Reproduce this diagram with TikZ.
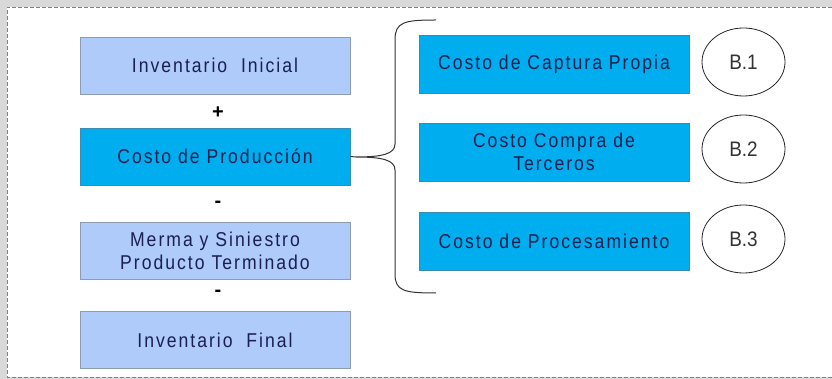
\documentclass[tikz,border=0pt]{standalone}
\usepackage{fontspec}
\setmainfont{Liberation Sans}
\usetikzlibrary{shapes.geometric}
\begin{document}
\begin{tikzpicture}[x=1pt,y=-1pt,
  lbox/.style={draw=boxedge,fill=lightblu,line width=0.8pt,minimum width=270pt,minimum height=57pt,inner sep=0pt,align=center,text=navytxt,font=\fontsize{20}{23}\selectfont\addfontfeature{FakeStretch=0.88,LetterSpace=10}},
  cbox/.style={lbox,draw=cyanedge,fill=cyanfill},
  oval/.style={draw=black!85,ellipse,line width=0.8pt,minimum width=83pt,minimum height=68pt,inner sep=0pt,text=black!80,font=\fontsize{21}{22}\selectfont\addfontfeature{FakeStretch=0.9}},
  op/.style={font=\bfseries\fontsize{20}{20}\selectfont,text=black}]
\definecolor{lightblu}{HTML}{AFCBFA}
\definecolor{boxedge}{HTML}{8C9CB4}
\definecolor{cyanfill}{HTML}{00ADEF}
\definecolor{cyanedge}{HTML}{3A8CB0}
\definecolor{navytxt}{HTML}{1A1F4E}
\definecolor{bgray}{HTML}{D9D9D9}
\useasboundingbox (0,0) rectangle (832,379);
\fill[bgray] (0,0) rectangle (832,379);
\fill[white] (7,7) rectangle (832,377);
\draw[gray,dashed,line width=0.7pt,dash pattern=on 4pt off 2pt] (832,7) -- (7,7) -- (7,377) -- (832,377);
% left column
\node[lbox] (ii) at (215,65.5) {Inventario\ \ Inicial};
\node[op] (p1) at (218,113) {+};
\node[cbox] (cp) at (215,156.5) {Costo de Producción};
\node[op] (m1) at (218,204) {-};
\node[lbox] (ms) at (215,251) {Merma y Siniestro\\Producto Terminado};
\node[op] (m2) at (218,293) {-};
\node[lbox] (if) at (215,340) {Inventario\ \ Final};
% right column
\node[cbox,minimum height=58pt] (b1) at (554,64) {Costo de Captura Propia};
\node[cbox,minimum height=58pt] (b2) at (554,152) {Costo Compra de\\Terceros};
\node[cbox,minimum height=58pt] (b3) at (554,241) {Costo de Procesamiento};
\node[oval] (e1) at (743.5,62) {B.1};
\node[oval] (e2) at (743.5,149) {B.2};
\node[oval] (e3) at (743.5,239) {B.3};
% brace
\coordinate (tip) at (356,157);
\coordinate (btop) at (436,20);
\coordinate (bbot) at (436,293);
\draw[black!80,line width=1pt] (btop) .. controls (404,20) and (395,22) .. (395,40) -- (395,144)
  .. controls (395,154) and (382,157) .. (tip)
  .. controls (382,157) and (395,160) .. (395,170) -- (395,274)
  .. controls (395,291) and (404,293) .. (bbot);
\draw[black!80,line width=1pt] (cp.east) -- (tip);
\end{tikzpicture}
\end{document}
